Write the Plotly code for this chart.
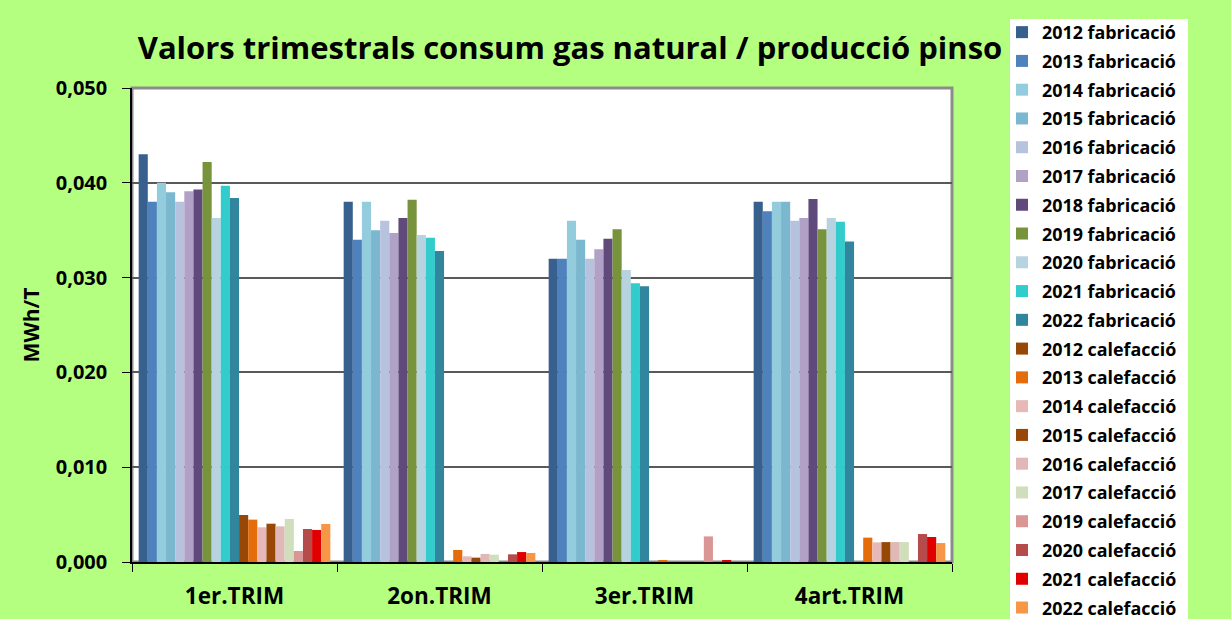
import plotly.graph_objects as go

categories = ["1er.TRIM", "2on.TRIM", "3er.TRIM", "4art.TRIM"]

series_names = [
    "2012 fabricació", "2013 fabricació", "2014 fabricació", "2015 fabricació",
    "2016 fabricació", "2017 fabricació", "2018 fabricació", "2019 fabricació",
    "2020 fabricació", "2021 fabricació", "2022 fabricació",
    "2012 calefacció", "2013 calefacció", "2014 calefacció", "2015 calefacció",
    "2016 calefacció", "2017 calefacció", "2019 calefacció", "2020 calefacció",
    "2021 calefacció", "2022 calefacció",
]

fab_2012 = [0.0430, 0.0380, 0.0320, 0.0380]
fab_2013 = [0.0380, 0.0340, 0.0320, 0.0370]
fab_2014 = [0.0400, 0.0380, 0.0360, 0.0380]
fab_2015 = [0.0390, 0.0350, 0.0340, 0.0380]
fab_2016 = [0.0380, 0.0360, 0.0320, 0.0360]
fab_2017 = [0.0391, 0.0347, 0.0330, 0.0363]
fab_2018 = [0.0393, 0.0363, 0.0341, 0.0383]
fab_2019 = [0.0422, 0.0382, 0.0351, 0.0351]
fab_2020 = [0.0363, 0.0345, 0.0308, 0.0363]
fab_2021 = [0.0397, 0.0342, 0.0294, 0.0359]
fab_2022 = [0.0384, 0.0328, 0.0291, 0.0338]

cal_2012 = [0.00496, 0.0, 0.0, 0.0]
cal_2013 = [0.00447, 0.00127, 0.00020, 0.00257]
cal_2014 = [0.00366, 0.00060, 0.0, 0.00207]
cal_2015 = [0.00404, 0.00046, 0.0, 0.00210]
cal_2016 = [0.00376, 0.00085, 0.0, 0.00210]
cal_2017 = [0.00454, 0.00077, 0.0, 0.00210]
cal_2019 = [0.00116, 0.0, 0.00270, 0.0]
cal_2020 = [0.00348, 0.00081, 0.0, 0.00295]
cal_2021 = [0.00338, 0.00105, 0.00013, 0.00264]
cal_2022 = [0.00401, 0.00095, 0.0, 0.00200]

series_values = [
    fab_2012, fab_2013, fab_2014, fab_2015, fab_2016, fab_2017, fab_2018,
    fab_2019, fab_2020, fab_2021, fab_2022,
    cal_2012, cal_2013, cal_2014, cal_2015, cal_2016, cal_2017, cal_2019,
    cal_2020, cal_2021, cal_2022,
]

series_colors = [
    "#37608F", "#4F81BD", "#93CDDD", "#7BB8CF", "#B7C3DE", "#B2A1C7",
    "#604A7B", "#77933C", "#B6D3DF", "#33CCCC", "#31859C",
    "#974806", "#E46C0A", "#E6B9B8", "#974806", "#E0B8B7", "#D0DEBB",
    "#D99694", "#B54B4A", "#E00000", "#F79646",
]

W, H = 1231, 619
L, R, T, B = 132, 952, 88, 562
pw, ph = R - L, B - T

def px_x(x):
    return (x - L) / pw

def px_y(y):
    return (B - y) / ph

fig = go.Figure()
for i, (name, vals, col) in enumerate(zip(series_names, series_values, series_colors)):
    fig.add_trace(go.Bar(
        x=categories, y=vals, name=name, marker=dict(color=col, line=dict(width=0)),
        legendgroup=f"g{i:02d}",
    ))

BG = "#B5FF80"
FONT = "Open Sans"

fig.update_layout(
    width=W, height=H,
    barmode="group", bargap=0.065, bargroupgap=0,
    paper_bgcolor=BG, plot_bgcolor="white",
    margin=dict(l=L, r=W - R, t=T, b=H - B, autoexpand=False),
    separators=",.",
    font=dict(family=FONT, color="black"),
    title=dict(
        text="Valors trimestrals consum gas natural / producció pinso",
        font=dict(family=FONT, size=31, weight="bold", color="black"),
        x=px_x(570), xref="paper", xanchor="center",
        y=1 - 48 / H, yref="container", yanchor="middle",
    ),
    legend=dict(
        x=px_x(1002), y=px_y(14), xanchor="left", yanchor="top",
        bgcolor="rgba(0,0,0,0)", borderwidth=0,
        font=dict(family=FONT, size=17.9, weight="bold", color="black"),
        tracegroupgap=2.5, traceorder="grouped", maxheight=2000,
    ),
    showlegend=True,
)

fig.update_yaxes(
    range=[0, 0.05], dtick=0.01, tickformat=".3f",
    showgrid=True, gridcolor="#595959", gridwidth=1.5,
    showline=True, linecolor="black", linewidth=1.5,
    ticks="outside", ticklen=8, tickcolor="black", tickwidth=1,
    tickfont=dict(family=FONT, size=20, weight="bold", color="black"),
    ticklabelstandoff=11,
    title=dict(text="MWh/T", font=dict(family=FONT, size=21, weight="bold", color="black"), standoff=10),
    zeroline=False,
)
fig.update_xaxes(
    showline=True, linecolor="black", linewidth=1.5,
    ticks="outside", tickson="boundaries", ticklen=8, tickcolor="black",
    tickfont=dict(family=FONT, size=22.5, weight="bold", color="black"),
    ticklabelstandoff=13,
)

# plot area border (Excel-like gray frame) and legend box
fig.add_shape(type="rect", xref="paper", yref="paper", x0=0, x1=1, y0=0, y1=1,
              line=dict(color="#8C8C8C", width=3), layer="below")
fig.add_shape(type="rect", xref="paper", yref="paper",
              x0=px_x(1010), x1=px_x(1188), y0=px_y(640), y1=px_y(19),
              line=dict(width=0), fillcolor="white", layer="below")

fig.write_html(
    "out.html",
    config={"displayModeBar": False},
    post_script="document.body.style.margin='0';document.body.style.padding='0';",
)
